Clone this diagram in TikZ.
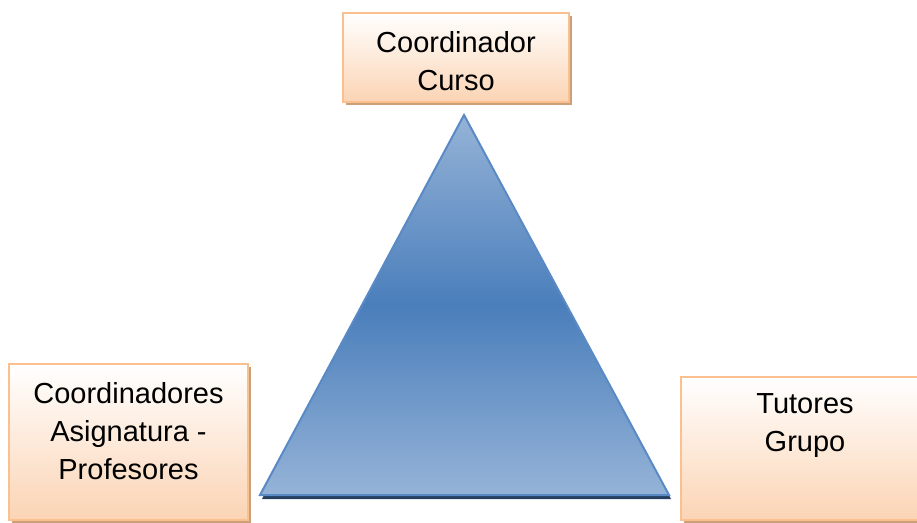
\documentclass[tikz,border=0pt]{standalone}
\usepackage{fontspec}
\setmainfont{Liberation Sans}
\usetikzlibrary{positioning,shadows}
\definecolor{peach}{HTML}{FBD4B4}
\definecolor{peachline}{HTML}{FAC090}
\definecolor{peachshadow}{HTML}{C9A07A}
\definecolor{bluelight}{HTML}{95B3D7}
\definecolor{bluedark}{HTML}{4A7EBB}
\definecolor{blueline}{HTML}{5A8AC6}
\definecolor{blueshadow}{HTML}{243F60}
\begin{document}
\begin{tikzpicture}[x=1pt, y=-1pt,
  box/.style={draw=peachline, line width=2pt, top color=white, bottom color=peach,
    drop shadow={shadow xshift=3pt, shadow yshift=-3pt, fill=peachshadow, opacity=1}},
  boxtext/.style={font=\fontsize{29}{38}\selectfont, align=center, inner sep=0pt}]
\useasboundingbox (0,0) rectangle (917,522);
% boxes
\node[box, minimum width=226pt, minimum height=89pt] (curso) at (456,57.5) {};
\node[box, minimum width=239pt, minimum height=156pt] (asig) at (128.5,442) {};
\node[box, minimum width=300pt, minimum height=143pt] (tutor) at (831,448.5) {};
\node[boxtext, below=17pt of tutor.north, xshift=-26pt] (tutortxt) {Tutores\\Grupo};
\node[boxtext, below=19pt of curso.north] (cursotxt) {Coordinador\\Curso};
\node[boxtext, below=19pt of asig.north] (asigtxt) {Coordinadores\\Asignatura -\\Profesores};
% triangle
\coordinate (apex) at (464,115);
\coordinate (bl) at (260,495);
\coordinate (br) at (669,495);
\fill[blueshadow] ([shift={(2,4)}]bl) -- ([shift={(2,4)}]br) -- ([shift={(2,4)}]apex) -- cycle;
\draw[blueline, line width=2pt, top color=bluelight, bottom color=bluelight, middle color=bluedark]
  (apex) -- (br) -- (bl) -- cycle;
\end{tikzpicture}
\end{document}
